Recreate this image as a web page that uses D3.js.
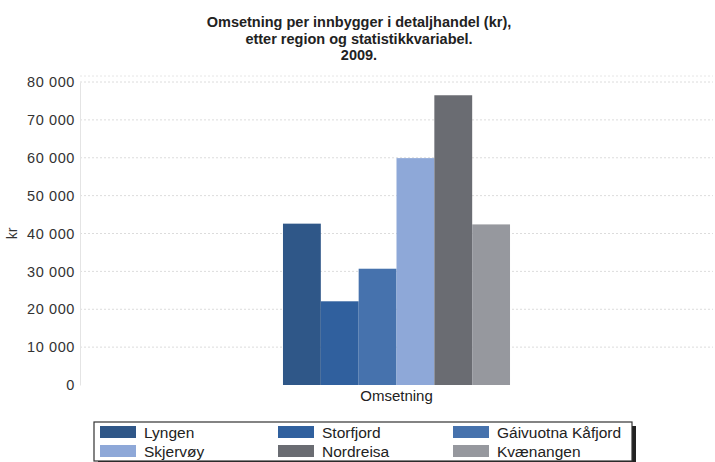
<!DOCTYPE html>
<html><head><meta charset="utf-8">
<script src="https://cdn.jsdelivr.net/npm/d3@7"></script>
<style>body{margin:0;background:#fff}svg{display:block}text{font-family:"Liberation Sans",Arial,sans-serif}</style>
</head><body>
<div id="c"></div>
<script>
const titleLines = ["Omsetning per innbygger i detaljhandel (kr),", "etter region og statistikkvariabel.", "2009."];
const categories = ["Omsetning"];
const regions = ["Lyngen", "Storfjord", "Gáivuotna Kåfjord", "Skjervøy", "Nordreisa", "Kvænangen"];
const values = [42600, 22100, 30700, 59900, 76500, 42400];
const colors = ["#2f5788", "#30609e", "#4672ad", "#8ea8d8", "#6a6c72", "#96989e"];
const yTicks = [0, 10000, 20000, 30000, 40000, 50000, 60000, 70000, 80000];
const yLabel = "kr";

const W = 715, H = 462;
const m = {l: 80, r: 2, t: 82, b: 77};
const svg = d3.select("#c").append("svg").attr("width", W).attr("height", H);

const title = svg.append("g");
titleLines.forEach((t, i) => title.append("text").attr("x", 359).attr("y", 27 + i * 16.5)
  .attr("text-anchor", "middle").attr("font-size", 14.5).attr("font-weight", "bold").attr("fill", "#222").text(t));

const y = d3.scaleLinear().domain([0, 80000]).range([H - m.b, m.t]);
const x0 = d3.scaleBand().domain(categories).range([m.l, W - m.r]).paddingInner(0).paddingOuter(0.894);
const x1 = d3.scaleBand().domain(regions).range([0, x0.bandwidth()]);

const fmt = v => d3.format(",")(v).replace(/,/g, " ");

// grid
svg.append("g").selectAll("line").data(yTicks.filter(d => d > 0)).join("line")
  .attr("x1", m.l).attr("x2", W - m.r).attr("y1", d => y(d)).attr("y2", d => y(d))
  .attr("stroke", "#dcdcdc").attr("stroke-dasharray", "2,2");
svg.append("line").attr("x1", m.l).attr("x2", W - m.r).attr("y1", y(80000) - 6).attr("y2", y(80000) - 6)
  .attr("stroke", "#e6e6e6").attr("stroke-dasharray", "2,2");

const yAxis = svg.append("g").attr("transform", `translate(${m.l},0)`)
  .call(d3.axisLeft(y).tickValues(yTicks).tickFormat(fmt).tickSize(0).tickPadding(5));
yAxis.select(".domain").attr("stroke", "#e4e4e4");
yAxis.selectAll("text").attr("font-size", 14.5).attr("letter-spacing", 0.6).attr("fill", "#333")
  .attr("font-family", '"Liberation Sans",Arial,sans-serif');

svg.append("text").attr("transform", `translate(17,${y(40000)}) rotate(-90)`).attr("text-anchor", "middle")
  .attr("font-size", 14).attr("fill", "#333").text(yLabel);

// bars
const g = svg.append("g");
categories.forEach(c => {
  g.selectAll("rect").data(regions).join("rect")
    .attr("x", r => x0(c) + x1(r)).attr("width", x1.bandwidth())
    .attr("y", (r, i) => y(values[i])).attr("height", (r, i) => y(0) - y(values[i]))
    .attr("fill", (r, i) => colors[i]);
});

const xAxis = svg.append("g").attr("transform", `translate(0,${y(0)})`)
  .call(d3.axisBottom(x0).tickSize(0).tickPadding(5));
xAxis.select(".domain").remove();
xAxis.selectAll("text").attr("font-size", 15).attr("fill", "#222").attr("font-family", '"Liberation Sans",Arial,sans-serif');

// legend
const lx = 94, ly = 422, lw = 538, lh = 39;
svg.append("rect").attr("x", lx + 4).attr("y", ly + 4).attr("width", lw).attr("height", lh + 4).attr("fill", "#222");
svg.append("rect").attr("x", lx).attr("y", ly).attr("width", lw).attr("height", lh).attr("fill", "#fff").attr("stroke", "#333").attr("stroke-width", 1.2);
const colX = [100, 278, 453];
regions.forEach((r, i) => {
  const cx = colX[i % 3], cy = 426 + Math.floor(i / 3) * 19;
  svg.append("rect").attr("x", cx).attr("y", cy).attr("width", 36).attr("height", 12).attr("fill", colors[i]);
  svg.append("text").attr("x", cx + 44).attr("y", cy + 12).attr("font-size", 15.5).attr("fill", "#222").text(r);
});
</script>
</body></html>
